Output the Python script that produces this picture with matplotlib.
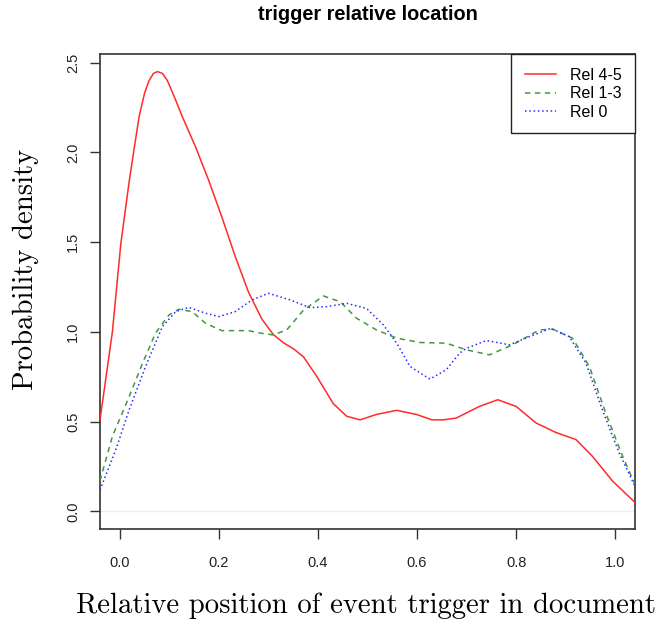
import matplotlib
matplotlib.use("Agg")
import matplotlib.pyplot as plt

# values
rel45_x = [-0.04, -0.015, 0.002, 0.019, 0.030, 0.039, 0.050, 0.059, 0.068, 0.076,
           0.086, 0.096, 0.110, 0.126, 0.153, 0.180, 0.206, 0.233, 0.260, 0.287,
           0.310, 0.330, 0.351, 0.371, 0.398, 0.431, 0.458, 0.485, 0.518, 0.559,
           0.599, 0.630, 0.653, 0.679, 0.726, 0.763, 0.800, 0.840, 0.880, 0.921,
           0.954, 0.995, 1.04]
rel45_y = [0.51, 1.00, 1.49, 1.84, 2.04, 2.20, 2.33, 2.40, 2.44, 2.45,
           2.44, 2.40, 2.31, 2.20, 2.03, 1.84, 1.64, 1.42, 1.22, 1.07,
           0.985, 0.94, 0.905, 0.86, 0.75, 0.60, 0.53, 0.51, 0.54, 0.563,
           0.54, 0.51, 0.51, 0.52, 0.585, 0.622, 0.585, 0.493, 0.44, 0.40,
           0.307, 0.168, 0.05]

rel13_x = [-0.04, -0.015, 0.019, 0.046, 0.072, 0.099, 0.119, 0.146, 0.173, 0.206,
           0.260, 0.284, 0.310, 0.337, 0.371, 0.411, 0.445, 0.478, 0.518, 0.559,
           0.606, 0.659, 0.700, 0.746, 0.793, 0.847, 0.874, 0.914, 0.948, 0.981,
           1.015, 1.04]
rel13_y = [0.17, 0.418, 0.64, 0.826, 0.993, 1.094, 1.126, 1.113, 1.048, 1.007,
           1.007, 0.993, 0.983, 1.011, 1.122, 1.20, 1.168, 1.076, 1.011, 0.965,
           0.941, 0.937, 0.90, 0.872, 0.928, 1.011, 1.015, 0.965, 0.807, 0.548,
           0.307, 0.15]

rel0_x = [-0.04, -0.008, 0.019, 0.052, 0.086, 0.113, 0.139, 0.173, 0.200, 0.233,
          0.267, 0.300, 0.344, 0.384, 0.418, 0.458, 0.498, 0.532, 0.559, 0.586,
          0.626, 0.659, 0.686, 0.700, 0.740, 0.787, 0.827, 0.870, 0.907, 0.941,
          0.974, 1.008, 1.04]
rel0_y = [0.12, 0.344, 0.567, 0.807, 1.03, 1.113, 1.137, 1.104, 1.085, 1.113,
          1.178, 1.215, 1.178, 1.135, 1.141, 1.159, 1.131, 1.039, 0.937, 0.807,
          0.737, 0.789, 0.882, 0.909, 0.952, 0.928, 0.974, 1.02, 0.974, 0.826,
          0.567, 0.326, 0.14]

xticks = [0.0, 0.2, 0.4, 0.6, 0.8, 1.0]
yticks = [0.0, 0.5, 1.0, 1.5, 2.0, 2.5]

sans = "Liberation Sans"
serif = "cmr10"

fig = plt.figure(figsize=(6.59, 6.22), dpi=100)
ax = fig.add_axes([100 / 659, 1 - 529 / 622, 535 / 659, 475 / 622])

ax.axhline(0, color="#eeeeee", lw=1.0, zorder=1)
ax.plot(rel45_x, rel45_y, color="#ff2a2a", lw=1.1, label="Rel 4-5", zorder=3)
ax.plot(rel13_x, rel13_y, color="#3f9a3f", lw=1.1, dashes=(3.5, 3), label="Rel 1-3", zorder=3)
ax.plot(rel0_x, rel0_y, color="#2a2aff", lw=1.1, dashes=(1, 1.8), label="Rel 0", zorder=3)

ax.set_xlim(-0.04, 1.04)
ax.set_ylim(-0.098, 2.548)
ax.set_xticks(xticks)
ax.set_yticks(yticks)
ax.set_xticklabels(["%.1f" % v for v in xticks], fontfamily=sans, fontsize=10.5, color="#222222")
ax.set_yticklabels(["%.1f" % v for v in yticks], fontfamily=sans, fontsize=10.5, color="#222222",
                   rotation=90, va="center")
ax.tick_params(axis="x", length=7.2, width=1.0, pad=12, color="#333333")
ax.tick_params(axis="y", length=7.2, width=1.0, pad=7, color="#333333")
for s in ax.spines.values():
    s.set_color("#333333")
    s.set_linewidth(1.2)

ax.set_title("trigger relative location", fontfamily=sans, fontweight="bold",
             fontsize=14.3, pad=0, y=1 + (55 - 16) / 475, va="center")

ax.set_xlabel("Relative position of event trigger in document", fontfamily=serif, fontsize=20.7)
ax.xaxis.set_label_coords(0.5 - 2 / 535, -(606 - 529) / 475)
ax.xaxis.label.set_va("center")
ax.set_ylabel("Probability density", fontfamily=serif, fontsize=20.7)
ax.yaxis.set_label_coords(-(100 - 26) / 535, (529 - 269) / 475)
ax.yaxis.label.set_va("center")

leg = ax.legend(loc="upper right", bbox_to_anchor=(1, 1), borderaxespad=0,
                prop={"family": sans, "size": 11.5}, fancybox=False, framealpha=1,
                edgecolor="#222222", handlelength=1.95, handletextpad=0.85,
                labelspacing=0.22, borderpad=0.85)
leg.get_frame().set_linewidth(1.0)

fig.savefig("out.png", dpi=100)
